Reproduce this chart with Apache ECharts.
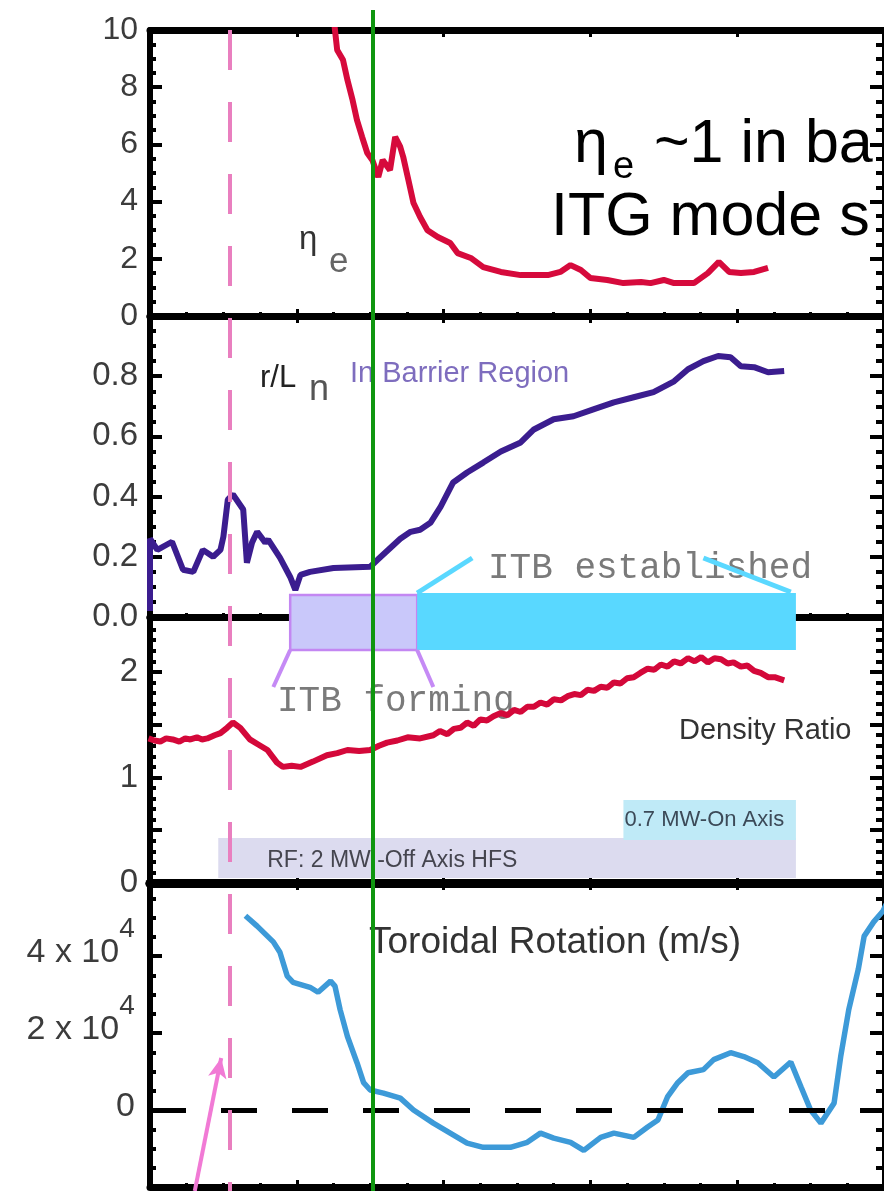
<!DOCTYPE html>
<html>
<head>
<meta charset="utf-8">
<title>ITB time traces</title>
<script src="https://cdn.jsdelivr.net/npm/echarts@6/dist/echarts.min.js"></script>
<style>
html, body { margin: 0; padding: 0; background: #fff; }
#chart { width: 884px; height: 1191px; }
</style>
</head>
<body>
<div id="chart"></div>
<script>
// shared time base (s) for the four stacked panels
const timeRange = [0.6, 1.6];

// eta_e in the barrier
const etaE = [
  [0.850, 10.5], [0.852, 10.0], [0.855, 9.3], [0.863, 8.95], [0.869, 8.25], [0.876, 7.55],
  [0.882, 6.85], [0.889, 6.26], [0.896, 5.7], [0.903, 5.45], [0.911, 4.86], [0.917, 5.45],
  [0.927, 5.1], [0.934, 6.26], [0.941, 5.91], [0.945, 5.56], [0.952, 4.76], [0.959, 3.95],
  [0.968, 3.46], [0.978, 3.0], [0.992, 2.76], [1.009, 2.55], [1.019, 2.2], [1.037, 2.03],
  [1.054, 1.71], [1.078, 1.54], [1.105, 1.43], [1.142, 1.43], [1.159, 1.54], [1.173, 1.78],
  [1.187, 1.61], [1.200, 1.33], [1.223, 1.26], [1.245, 1.15], [1.269, 1.19], [1.282, 1.15],
  [1.300, 1.26], [1.314, 1.15], [1.341, 1.15], [1.360, 1.5], [1.375, 1.89], [1.389, 1.54],
  [1.405, 1.5], [1.423, 1.54], [1.442, 1.68]
];

// r/L_n in barrier region
const rOverLn = [
  [0.600, 0.02], [0.600, 0.26], [0.610, 0.223], [0.630, 0.25], [0.645, 0.157], [0.659, 0.15],
  [0.672, 0.223], [0.686, 0.2], [0.696, 0.223], [0.700, 0.267], [0.706, 0.39], [0.713, 0.407],
  [0.727, 0.357], [0.732, 0.18], [0.739, 0.247], [0.746, 0.283], [0.757, 0.247], [0.761, 0.257],
  [0.777, 0.197], [0.791, 0.133], [0.798, 0.09], [0.805, 0.14], [0.818, 0.15], [0.850, 0.163],
  [0.900, 0.167], [0.910, 0.19], [0.941, 0.26], [0.955, 0.283], [0.968, 0.29], [0.982, 0.313],
  [0.996, 0.367], [1.013, 0.447], [1.032, 0.48], [1.054, 0.513], [1.078, 0.55], [1.105, 0.58],
  [1.123, 0.623], [1.150, 0.657], [1.177, 0.667], [1.204, 0.69], [1.232, 0.713], [1.259, 0.73],
  [1.286, 0.747], [1.314, 0.783], [1.333, 0.823], [1.354, 0.85], [1.374, 0.867], [1.391, 0.863],
  [1.405, 0.833], [1.423, 0.83], [1.442, 0.813], [1.464, 0.817]
];

// density ratio
const densityRatio = [
  [0.598, 1.37], [0.606, 1.35], [0.614, 1.34], [0.622, 1.37], [0.631, 1.36], [0.640, 1.34],
  [0.648, 1.37], [0.655, 1.36], [0.664, 1.38], [0.671, 1.36], [0.678, 1.37], [0.688, 1.40],
  [0.696, 1.42], [0.705, 1.47], [0.713, 1.52], [0.723, 1.47], [0.736, 1.36], [0.748, 1.31],
  [0.760, 1.26], [0.773, 1.14], [0.781, 1.10], [0.793, 1.11], [0.805, 1.10], [0.822, 1.15],
  [0.841, 1.21], [0.855, 1.23], [0.869, 1.26], [0.885, 1.25], [0.900, 1.26], [0.912, 1.30],
  [0.923, 1.33], [0.937, 1.35], [0.951, 1.38], [0.968, 1.37], [0.986, 1.40], [0.995, 1.44],
  [1.005, 1.41], [1.014, 1.46], [1.023, 1.47], [1.032, 1.52], [1.041, 1.49], [1.050, 1.55],
  [1.059, 1.54], [1.068, 1.58], [1.078, 1.61], [1.087, 1.59], [1.096, 1.64], [1.105, 1.62],
  [1.114, 1.67], [1.123, 1.67], [1.132, 1.71], [1.141, 1.69], [1.150, 1.74], [1.160, 1.73],
  [1.169, 1.77], [1.178, 1.79], [1.187, 1.78], [1.196, 1.83], [1.205, 1.82], [1.214, 1.86],
  [1.223, 1.85], [1.232, 1.90], [1.241, 1.89], [1.250, 1.94], [1.259, 1.95], [1.268, 1.99],
  [1.278, 2.03], [1.287, 2.02], [1.296, 2.07], [1.305, 2.05], [1.314, 2.10], [1.323, 2.08],
  [1.333, 2.13], [1.342, 2.10], [1.351, 2.14], [1.360, 2.09], [1.369, 2.13], [1.378, 2.12],
  [1.387, 2.08], [1.395, 2.09], [1.405, 2.05], [1.414, 2.06], [1.423, 2.01], [1.432, 1.99],
  [1.442, 1.95], [1.451, 1.95], [1.464, 1.92]
];

// toroidal rotation (m/s)
const toroidalRotation = [
  [0.730, 50500], [0.746, 47800], [0.768, 43700], [0.777, 41000], [0.787, 34800], [0.795, 33200],
  [0.818, 31900], [0.829, 30600], [0.846, 33500], [0.852, 32200], [0.859, 26100], [0.869, 19100],
  [0.882, 12300], [0.891, 7100], [0.900, 5200], [0.918, 4400], [0.941, 3100], [0.959, 0],
  [0.986, -3400], [1.009, -6000], [1.032, -8600], [1.054, -9700], [1.091, -9700], [1.114, -8400],
  [1.132, -6000], [1.150, -7300], [1.173, -8400], [1.191, -10500], [1.214, -7100], [1.232, -6000],
  [1.259, -7100], [1.278, -4400], [1.292, -2600], [1.305, 3400], [1.319, 7100], [1.333, 9700],
  [1.354, 10500], [1.368, 13100], [1.391, 14900], [1.409, 13900], [1.428, 12300], [1.450, 8600],
  [1.473, 12500], [1.487, 6000], [1.500, 0], [1.514, -3400], [1.532, 1800], [1.541, 13900],
  [1.552, 26100], [1.565, 36600], [1.573, 45200], [1.586, 48900], [1.599, 51800], [1.603, 53500]
];

// event times and heating windows (s)
const dashedMarkerTime = 0.709;
const solidMarkerTime = 0.904;
const itbForming = [0.791, 0.964];
const itbEstablished = [0.964, 1.480];
const rfOffAxis = [0.693, 1.480];
const rfOnAxis = [1.245, 1.480];

// y tick labels shown on each panel
const etaTickLabels = [0, 2, 4, 6, 8, 10];
const lnTickLabels = [0, 0.2, 0.4, 0.6, 0.8];
const densityTickLabels = [0, 1, 2];
const rotationTickLabels = [0, 20000, 40000];

const sans = '"Liberation Sans", Arial, sans-serif';
const mono = '"Liberation Mono", "Courier New", monospace';
const labelColor = '#3c3c3c';

function hasTick(list, v) {
  return list.some(t => Math.abs(t - v) < 1e-6);
}

const panels = [
  { top: 30, height: 286, min: 0, max: 10, interval: 2, minor: 4, topW: 7, botW: 7, fontSize: 32,
    fmt: v => hasTick(etaTickLabels, v) ? String(Math.round(v)) : '' },
  { top: 316, height: 301, min: 0, max: 1.0, interval: 0.2, minor: 4, topW: 7, botW: 7, fontSize: 33,
    fmt: v => hasTick(lnTickLabels, v) ? v.toFixed(1) : '' },
  { top: 617, height: 266, min: 0, max: 2.52, interval: 0.5, minor: 5, topW: 7, botW: 9, fontSize: 33,
    fmt: v => hasTick(densityTickLabels, v) ? String(Math.round(v)) : '' },
  { top: 883, height: 304, min: -20000, max: 59000, interval: 20000, minor: 4, topW: 9, botW: 7, fontSize: 34,
    fmt: v => {
      if (!hasTick(rotationTickLabels, v)) return '';
      if (Math.abs(v) < 1e-6) return '{a|0}';
      return '{a|' + Math.round(v / 10000) + ' x 10}{b|4}{c| }';
    } }
];

const grids = [];
const xAxes = [];
const yAxes = [];

function xFrame(i, position, width) {
  return {
    type: 'value', gridIndex: i, position: position,
    min: timeRange[0], max: timeRange[1], interval: 0.2,
    axisLine: { show: true, onZero: false, lineStyle: { color: '#000', width: width } },
    axisTick: { show: true, inside: true, length: 7, lineStyle: { color: '#000', width: 3 } },
    minorTick: { show: true, splitNumber: 4, length: 4, lineStyle: { color: '#000', width: 3 } },
    axisLabel: { show: false },
    splitLine: { show: false }
  };
}

panels.forEach((p, i) => {
  grids.push({ left: 150, right: 0, top: p.top, height: p.height, outerBoundsMode: 'none' });
  xAxes.push(xFrame(i, 'bottom', p.botW));
  xAxes.push(xFrame(i, 'top', p.topW));
  yAxes.push({
    type: 'value', gridIndex: i, position: 'left',
    min: p.min, max: p.max, interval: p.interval,
    axisLine: { show: true, onZero: false, lineStyle: { color: '#000', width: 6 } },
    axisTick: { show: true, inside: true, length: 12, lineStyle: { color: '#000', width: 4 } },
    minorTick: { show: true, splitNumber: p.minor, length: 6, lineStyle: { color: '#000', width: 4 } },
    axisLabel: {
      show: true, margin: i === 3 ? 15 : 12, color: labelColor,
      fontSize: p.fontSize, fontFamily: sans, formatter: p.fmt,
      padding: i === 3 ? [0, 0, 6, 0] : 0,
      rich: {
        a: { fontSize: 34, lineHeight: 34, fontFamily: sans, color: labelColor, verticalAlign: 'middle' },
        b: { fontSize: 28, lineHeight: 28, fontFamily: sans, color: labelColor, verticalAlign: 'top' },
        c: { fontSize: 1, lineHeight: 76 }
      }
    },
    splitLine: { show: false }
  });
  yAxes.push({
    type: 'value', gridIndex: i, position: 'right',
    min: p.min, max: p.max, interval: p.interval,
    axisLine: { show: true, onZero: false, lineStyle: { color: '#000', width: 4 } },
    axisTick: { show: true, inside: true, length: 14, lineStyle: { color: '#000', width: 4 } },
    minorTick: { show: true, splitNumber: p.minor, length: 8, lineStyle: { color: '#000', width: 4 } },
    axisLabel: { show: false },
    splitLine: { show: false }
  });
});

// full-height overlay used for the annotations that cross panels
grids.push({ left: 150, right: 0, top: 0, bottom: 0, outerBoundsMode: 'none' });
xAxes.push({ type: 'value', gridIndex: 4, min: timeRange[0], max: timeRange[1], show: false });
yAxes.push({ type: 'value', gridIndex: 4, min: 0, max: 1191, inverse: true, show: false });

function trace(name, idx, data, color, width) {
  return {
    name: name, type: 'line', xAxisIndex: idx * 2, yAxisIndex: idx * 2,
    data: data, symbol: 'none', showSymbol: false, clip: true, silent: true, z: 3,
    lineStyle: { color: color, width: width }
  };
}

function box(range, y0, y1, fill, extra) {
  return [
    Object.assign({ xAxis: range[0], yAxis: y0, itemStyle: { color: fill, opacity: 1 } }, extra || {}),
    { xAxis: range[1], yAxis: y1 }
  ];
}

function seg(a, b, color, width, type) {
  return [
    { coord: a, symbol: 'none', lineStyle: { color: color, width: width, type: type || 'solid' } },
    { coord: b, symbol: 'none' }
  ];
}

const rotation = trace('Toroidal Rotation', 3, toroidalRotation, '#3d9ad8', 5.5);
rotation.markLine = {
  silent: true, symbol: 'none', label: { show: false },
  lineStyle: { color: '#000', width: 5, type: [36, 35] },
  data: [{ yAxis: 0 }]
};

const series = [
  trace('eta_e', 0, etaE, '#d60a3c', 6),
  trace('r/L_n', 1, rOverLn, '#3b1d8f', 6),
  trace('Density Ratio', 2, densityRatio, '#d4083a', 6),
  rotation,
  {
    name: 'windows', type: 'line', xAxisIndex: 8, yAxisIndex: 8, data: [], z: 4, silent: true,
    markArea: {
      silent: true,
      label: { show: false },
      data: [
        box(rfOffAxis, 838, 878, '#dcdbef', {
          name: 'RF: 2 MW -Off Axis HFS',
          label: { show: true, position: 'insideLeft', distance: 49, offset: [0, 3],
            color: '#45454f', fontSize: 23, fontFamily: sans }
        }),
        box(rfOnAxis, 800, 840, '#bfeaf7', {
          name: '0.7 MW-On Axis',
          label: { show: true, position: 'insideLeft', distance: 1,
            color: '#3c4a58', fontSize: 22, fontFamily: sans }
        }),
        box(itbForming, 595, 650, '#c9c8fa', {
          itemStyle: { color: '#c9c8fa', opacity: 1, borderColor: '#c387f2', borderWidth: 2.5 }
        }),
        box(itbEstablished, 593, 650, '#59d8ff')
      ]
    },
    markLine: {
      silent: true, symbol: 'none', label: { show: false },
      data: [
        seg([itbForming[0], 650], [0.768, 687], '#c58af5', 4),
        seg([itbForming[1], 650], [0.986, 687], '#c58af5', 4),
        seg([itbEstablished[0], 593], [1.039, 558], '#5ad8ff', 5),
        seg([1.354, 558], [1.473, 592], '#5ad8ff', 5)
      ]
    }
  },
  {
    name: 'markers', type: 'line', xAxisIndex: 8, yAxisIndex: 8, data: [], z: 6, silent: true,
    markLine: {
      silent: true, symbol: 'none', label: { show: false },
      data: [
        seg([dashedMarkerTime, 30], [dashedMarkerTime, 1191], '#e97fbf', 4, [40, 32]),
        seg([solidMarkerTime, 10], [solidMarkerTime, 1191], '#0f960f', 4),
        [
          { coord: [0.661, 1191], symbol: 'none', lineStyle: { color: '#f17ad5', width: 4, type: 'solid' } },
          { coord: [0.697, 1058], symbol: 'arrow', symbolSize: [14, 20] }
        ]
      ]
    }
  }
];

function txt(text, x, y, size, color, family) {
  return {
    type: 'text', x: x, y: y, z: 1, silent: true,
    style: { text: text, fill: color, fontSize: size, fontFamily: family || sans,
      align: 'left', verticalAlign: 'middle' }
  };
}

const option = {
  animation: false,
  backgroundColor: '#fff',
  textStyle: { fontFamily: sans },
  grid: grids,
  xAxis: xAxes,
  yAxis: yAxes,
  series: series,
  graphic: {
    elements: [
      txt('η', 574, 145, 61, '#000'),
      txt('e', 613, 168, 38, '#000'),
      txt('~1 in ba', 654, 145, 61, '#000'),
      txt('ITG mode s', 551, 218, 61, '#000'),
      txt('η', 299, 240, 33, '#333'),
      txt('e', 329, 262, 35, '#666'),
      txt('r/L', 260, 378, 31, '#222'),
      txt('n', 309, 390, 36, '#555'),
      txt('In Barrier Region', 350, 374, 29, '#7e6dbe'),
      txt('ITB established', 488, 568, 36, '#7a7a7a', mono),
      txt('ITB forming', 277, 701, 36, '#7a7a7a', mono),
      txt('Density Ratio', 679, 731, 29, '#333'),
      txt('Toroidal Rotation (m/s)', 369, 943, 37, '#333')
    ]
  }
};

const chart = echarts.init(document.getElementById('chart'));
chart.setOption(option);
</script>
</body>
</html>
